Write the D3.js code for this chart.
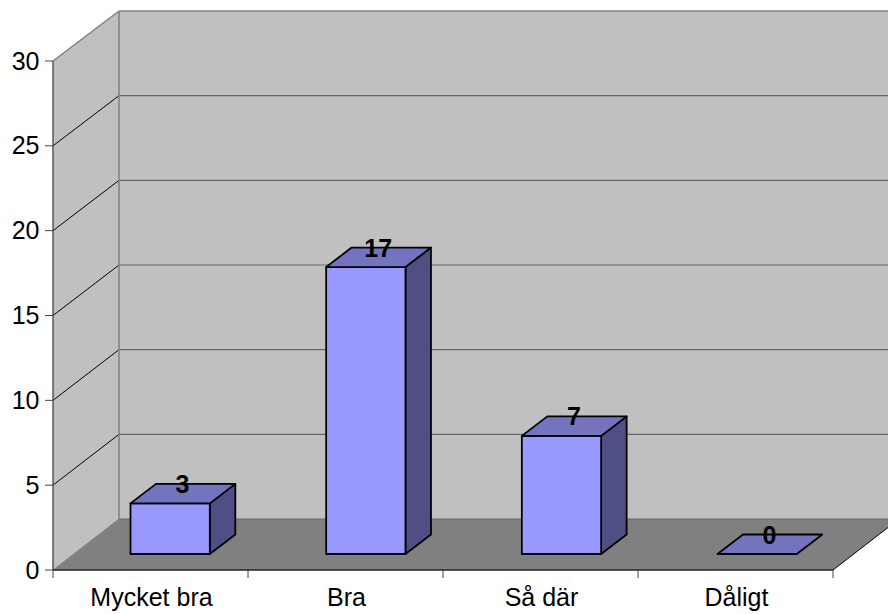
<!DOCTYPE html>
<html><head><meta charset="utf-8">
<style>html,body{margin:0;padding:0;background:#fff;overflow:hidden}svg{display:block}text{font-family:"Liberation Sans",Arial,sans-serif}</style>
<script src="https://cdn.jsdelivr.net/npm/d3@7/dist/d3.min.js"></script>
</head><body><svg id="c" width="888" height="614"></svg>
<script>
const categories=["Mycket bra","Bra","Så där","Dåligt"];
const values=[3,17,7,0];
const tickValues=[0,5,10,15,20,25,30];
const svg=d3.select("#c");
const y=d3.scaleLinear().domain([0,30]).range([570,61]);
const x=d3.scaleBand().domain(categories).range([53,833]);
const barX=d3.scalePoint().domain(categories).range([130.5,717.5]);
const depth={dx:66,dy:-51};
const bar={w:79.3,dx:25.5,dy:-19.5,lift:16};
const path=p=>"M"+p.map(a=>a.join(",")).join("L")+"Z";
const W=y(0),T=y(30),L=53,R=833;
svg.append("path").attr("d",path([[L,W],[R,W],[R+depth.dx,W+depth.dy],[L+depth.dx,W+depth.dy]])).attr("fill","#808080");
svg.append("path").attr("d",path([[L+depth.dx,T+depth.dy+1],[R+depth.dx,T+depth.dy+1],[R+depth.dx,W+depth.dy],[L+depth.dx,W+depth.dy]])).attr("fill","#c0c0c0");
svg.append("path").attr("d",path([[L,T],[L+depth.dx,T+depth.dy+1],[L+depth.dx,W+depth.dy],[L,W]])).attr("fill","#c0c0c0");
tickValues.forEach(t=>{
 const yy=y(t), top=t===30, bottom=t===0;
 const yb=yy+depth.dy+(t/30);
 if(!bottom&&!top){
  svg.append("line").attr("x1",L).attr("y1",yy).attr("x2",L+depth.dx).attr("y2",yb).attr("stroke","#000").attr("stroke-width",1);
  svg.append("line").attr("x1",L+depth.dx).attr("y1",yb).attr("x2",R+depth.dx).attr("y2",yb).attr("stroke","#666").attr("stroke-width",1.2);
 }
});
const g="#808080";
svg.append("line").attr("x1",L).attr("y1",T).attr("x2",L+depth.dx).attr("y2",T+depth.dy+1).attr("stroke",g).attr("stroke-width",1.5);
svg.append("line").attr("x1",L+depth.dx).attr("y1",T+depth.dy+1).attr("x2",R+depth.dx).attr("y2",T+depth.dy+1).attr("stroke",g).attr("stroke-width",1.5);
svg.append("line").attr("x1",L+depth.dx).attr("y1",T+depth.dy+1).attr("x2",L+depth.dx).attr("y2",W+depth.dy).attr("stroke",g).attr("stroke-width",1.5);
svg.append("line").attr("x1",L+depth.dx).attr("y1",W+depth.dy).attr("x2",R+depth.dx).attr("y2",W+depth.dy).attr("stroke","#666").attr("stroke-width",1.2);
svg.append("line").attr("x1",L).attr("y1",W).attr("x2",L+depth.dx).attr("y2",W+depth.dy).attr("stroke","#808080").attr("stroke-width",1);
svg.append("line").attr("x1",R).attr("y1",W).attr("x2",R+depth.dx).attr("y2",W+depth.dy).attr("stroke","#000").attr("stroke-width",1);
svg.append("line").attr("x1",L).attr("y1",T).attr("x2",L).attr("y2",W).attr("stroke","#444").attr("stroke-width",1.3);
svg.append("line").attr("x1",L).attr("y1",W).attr("x2",R).attr("y2",W).attr("stroke","#222").attr("stroke-width",1.6);
const ticks=svg.append("g");
tickValues.forEach(t=>{
 ticks.append("line").attr("x1",L-8).attr("x2",L).attr("y1",y(t)).attr("y2",y(t)).attr("stroke","#444");
 ticks.append("text").attr("x",39.5).attr("y",y(t)+8.5).attr("text-anchor","end").attr("font-size",25).attr("fill","#000").text(t);
});
categories.concat([null]).forEach(c=>{
 const xx=c?x(c):R;
 svg.append("line").attr("x1",xx).attr("x2",xx).attr("y1",W).attr("y2",W+8).attr("stroke","#444");
});
categories.forEach(c=>{
 svg.append("text").attr("x",x(c)+x.bandwidth()/2+1).attr("y",606).attr("text-anchor","middle").attr("font-size",25).attr("fill","#000").text(c);
});
const base=W-bar.lift, unit=16.88;
categories.forEach((c,i)=>{
 const v=values[i], x0=barX(c), x1=x0+bar.w, top=base-v*unit;
 const g=svg.append("g").attr("stroke","#000").attr("stroke-width",1.8).attr("stroke-linejoin","round");
 if(v>0){
  g.append("path").attr("d",path([[x1,top],[x1+bar.dx,top+bar.dy],[x1+bar.dx,base+bar.dy],[x1,base]])).attr("fill","#4f4f85");
  g.append("path").attr("d",path([[x0,top],[x1,top],[x1,base],[x0,base]])).attr("fill","#9999ff");
 }
 g.append("path").attr("d",path([[x0,top],[x1,top],[x1+bar.dx,top+bar.dy],[x0+bar.dx,top+bar.dy]])).attr("fill","#7373bf");
 svg.append("text").attr("x",x0+52).attr("y",top-10.5).attr("text-anchor","middle").attr("font-size",25).attr("font-weight","bold").attr("fill","#000").text(v);
});
</script></body></html>
